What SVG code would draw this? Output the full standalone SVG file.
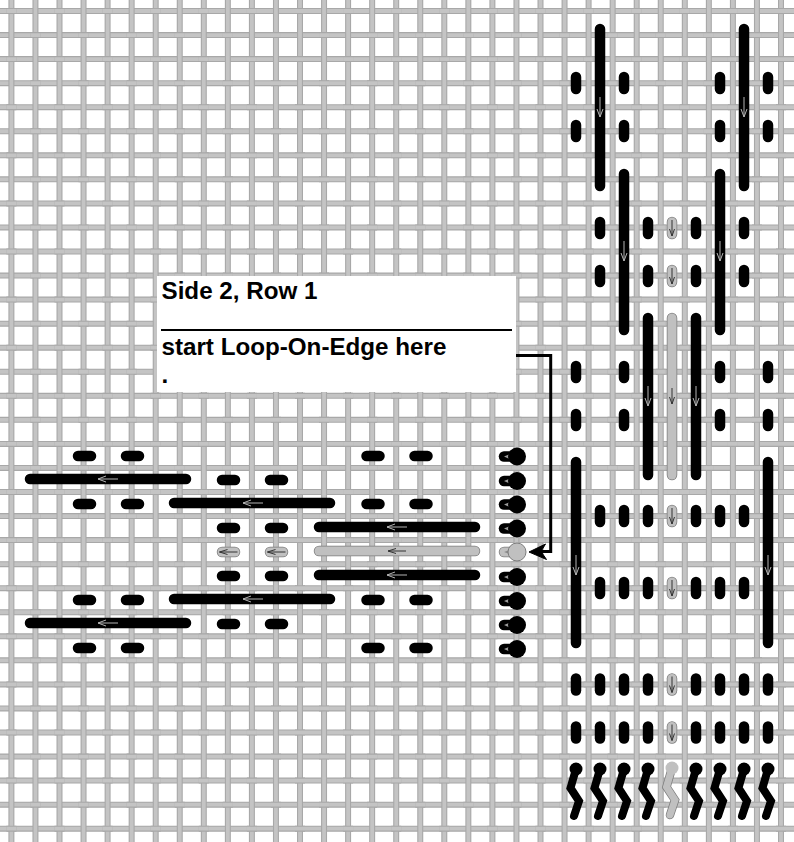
<svg xmlns="http://www.w3.org/2000/svg" width="794" height="842" viewBox="0 0 794 842">
<style>
.k{stroke:#000;stroke-width:10.500;stroke-linecap:round;fill:none}
.go{stroke:#7d7d7d;stroke-width:10.500;stroke-linecap:round;fill:none}
.gi{stroke:#c0c0c0;stroke-width:9;stroke-linecap:round;fill:none}
.kd{fill:#000}
.gd{fill:#c0c0c0;stroke:#7d7d7d;stroke-width:1}
.la{stroke:#b4b4b4;stroke-width:1;fill:none}
.da{stroke:#333;stroke-width:1;fill:none}
.zk{stroke:#000;stroke-width:8;stroke-linecap:round;stroke-linejoin:miter;fill:none}
.zo{stroke:#7d7d7d;stroke-width:8.500;stroke-linecap:round;stroke-linejoin:miter;fill:none}
.zi{stroke:#c0c0c0;stroke-width:7;stroke-linecap:round;stroke-linejoin:miter;fill:none}
.t{font-family:"Liberation Sans",Arial,sans-serif;font-weight:700;font-size:24.200px;fill:#000}
.ho{stroke:#a8a8a8;stroke-width:6;fill:none}
.hi{stroke:#c4c4c4;stroke-width:3.800;fill:none}
.pa{stroke-dasharray:10 38.100}
</style>
<defs>
<path id="hr" d="M0 11H794M0 35.050H794M0 59.100H794M0 83.150H794M0 107.200H794M0 131.250H794M0 155.300H794M0 179.350H794M0 203.400H794M0 227.450H794M0 251.500H794M0 275.550H794M0 299.600H794M0 323.650H794M0 347.700H794M0 371.750H794M0 395.800H794M0 419.850H794M0 443.900H794M0 467.950H794M0 492H794M0 516.050H794M0 540.100H794M0 564.150H794M0 588.200H794M0 612.250H794M0 636.300H794M0 660.350H794M0 684.400H794M0 708.450H794M0 732.500H794M0 756.550H794M0 780.600H794M0 804.650H794M0 828.700H794"/>
<path id="vr" d="M11.400 0V842M35.450 0V842M59.500 0V842M83.550 0V842M107.600 0V842M131.650 0V842M155.700 0V842M179.750 0V842M203.800 0V842M227.850 0V842M251.900 0V842M275.950 0V842M300 0V842M324.050 0V842M348.100 0V842M372.150 0V842M396.200 0V842M420.250 0V842M444.300 0V842M468.350 0V842M492.400 0V842M516.450 0V842M540.500 0V842M564.550 0V842M588.600 0V842M612.650 0V842M636.700 0V842M660.750 0V842M684.800 0V842M708.850 0V842M732.900 0V842M756.950 0V842M781 0V842"/>
<path id="pt" d="M6.400 11H794M30.450 35.050H794M6.400 59.100H794M30.450 83.150H794M6.400 107.200H794M30.450 131.250H794M6.400 155.300H794M30.450 179.350H794M6.400 203.400H794M30.450 227.450H794M6.400 251.500H794M30.450 275.550H794M6.400 299.600H794M30.450 323.650H794M6.400 347.700H794M30.450 371.750H794M6.400 395.800H794M30.450 419.850H794M6.400 443.900H794M30.450 467.950H794M6.400 492H794M30.450 516.050H794M6.400 540.100H794M30.450 564.150H794M6.400 588.200H794M30.450 612.250H794M6.400 636.300H794M30.450 660.350H794M6.400 684.400H794M30.450 708.450H794M6.400 732.500H794M30.450 756.550H794M6.400 780.600H794M30.450 804.650H794M6.400 828.700H794"/>
<path id="ad" class="la" d="M-3 2 L0 10 L3 2 M0 -10 V10"/>
<path id="al" class="la" d="M-2 -3 L-10 0 L-2 3 M10 0 H-10"/>
<path id="add" class="da" d="M-2.500 1 L0 8 L2.500 1 M0 -8 V8"/>
<path id="ald" class="da" d="M-1 -2.500 L-9 0 L-1 2.500 M9 0 H-9"/>
<g id="sv"><line class="k" x1="0" y1="-6" x2="0" y2="6"/></g>
<g id="sh"><line class="k" x1="-6.500" y1="0" x2="6.500" y2="0"/></g>
<g id="gv"><line class="go" x1="0" y1="-6" x2="0" y2="6"/><line class="gi" x1="0" y1="-6" x2="0" y2="6"/><use href="#add"/></g>
<g id="gh"><line class="go" x1="-6.500" y1="0" x2="6.500" y2="0"/><line class="gi" x1="-6.500" y1="0" x2="6.500" y2="0"/><use href="#ald"/></g>
<g id="knot"><line class="k" x1="5" y1="0" x2="14" y2="0"/><path fill="#9a9a9a" d="M13 -3.500 L5 0 L13 3.500 Z"/><circle class="kd" cx="18" cy="0" r="9"/></g>
<path id="zz" d="M0 0 L-5.500 19 L3 32 L-2 47"/>
<g id="zkb"><use href="#zz" class="zk"/><circle class="kd" r="6.500"/></g>
</defs>

<rect id="canvas" width="794" height="842" fill="#fff"/>
<g id="grid">
<use href="#hr" class="ho"/><use href="#hr" class="hi"/>
<use href="#vr" class="ho"/><use href="#vr" class="hi"/>
<use href="#pt" class="ho pa"/><use href="#pt" class="hi pa"/>
</g>

<g id="note">
<rect x="157" y="276" width="359" height="116" fill="#fff"/>
<text class="t" x="161.500" y="298.500">Side 2, Row 1</text>
<line x1="161" y1="330" x2="512" y2="330" stroke="#000" stroke-width="2"/>
<text class="t" x="161.500" y="355">start Loop-On-Edge here</text>
<text class="t" x="161.500" y="383">.</text>
</g>

<g id="connectors">
<path d="M516 355.500H550.700V551.500H533" fill="none" stroke="#000" stroke-width="3"/>
<path d="M529 552 L545.500 544 L541 551.500 L546.500 559.500 Z" fill="#000" stroke="#000" stroke-width="1"/>
</g>

<g id="left-bars">
<line class="k" x1="30" y1="479" x2="186" y2="479"/><use href="#al" x="108" y="479"/>
<line class="k" x1="174" y1="503" x2="330" y2="503"/><use href="#al" x="253" y="503"/>
<line class="k" x1="319" y1="527" x2="475" y2="527"/><use href="#al" x="397" y="527"/>
<line class="go" x1="319" y1="551" x2="475" y2="551"/><line class="gi" x1="319" y1="551" x2="475" y2="551"/><use href="#ald" x="397" y="551"/>
<line class="k" x1="319" y1="575" x2="475" y2="575"/><use href="#al" x="397" y="575"/>
<line class="k" x1="174" y1="599" x2="330" y2="599"/><use href="#al" x="253" y="599"/>
<line class="k" x1="30" y1="623" x2="186" y2="623"/><use href="#al" x="108" y="623"/>
</g>
<g id="left-short">
<use href="#sh" x="84.500" y="456"/><use href="#sh" x="132.500" y="456"/>
<use href="#sh" x="84.500" y="504"/><use href="#sh" x="132.500" y="504"/>
<use href="#sh" x="84.500" y="600"/><use href="#sh" x="132.500" y="600"/>
<use href="#sh" x="84.500" y="648"/><use href="#sh" x="132.500" y="648"/>
<use href="#sh" x="228.500" y="480"/><use href="#sh" x="276.500" y="480"/>
<use href="#sh" x="228.500" y="528"/><use href="#sh" x="276.500" y="528"/>
<use href="#gh" x="228.500" y="552"/><use href="#gh" x="276.500" y="552"/>
<use href="#sh" x="228.500" y="576"/><use href="#sh" x="276.500" y="576"/>
<use href="#sh" x="228.500" y="624"/><use href="#sh" x="276.500" y="624"/>
<use href="#sh" x="373" y="456"/><use href="#sh" x="421" y="456"/>
<use href="#sh" x="373" y="504"/><use href="#sh" x="421" y="504"/>
<use href="#sh" x="373" y="600"/><use href="#sh" x="421" y="600"/>
<use href="#sh" x="373" y="648"/><use href="#sh" x="421" y="648"/>
</g>
<g id="edge-knots">
<use href="#knot" x="499" y="456.500"/><use href="#knot" x="499" y="481"/><use href="#knot" x="499" y="504.500"/><use href="#knot" x="499" y="528.500"/>
<g id="start-knot"><line class="go" x1="504" y1="552" x2="513" y2="552"/><line class="gi" x1="504" y1="552" x2="513" y2="552"/><path fill="#8a8a8a" d="M512 549 L504 552 L512 555 Z"/><circle class="gd" cx="517" cy="552" r="9"/></g>
<use href="#knot" x="499" y="577"/><use href="#knot" x="499" y="601"/><use href="#knot" x="499" y="625"/><use href="#knot" x="499" y="649"/>
</g>

<g id="right-bars">
<line class="k" x1="600" y1="29" x2="600" y2="186"/><use href="#ad" x="600" y="107"/>
<line class="k" x1="744" y1="29" x2="744" y2="186"/><use href="#ad" x="744" y="107"/>
<line class="k" x1="624" y1="174" x2="624" y2="330"/><use href="#ad" x="624" y="251"/>
<line class="k" x1="720" y1="174" x2="720" y2="330"/><use href="#ad" x="720" y="251"/>
<line class="k" x1="648" y1="318" x2="648" y2="475"/><use href="#ad" x="648" y="396"/>
<line class="go" x1="672" y1="318" x2="672" y2="475"/><line class="gi" x1="672" y1="318" x2="672" y2="475"/><use href="#add" x="672" y="396"/>
<line class="k" x1="696" y1="318" x2="696" y2="475"/><use href="#ad" x="696" y="396"/>
<line class="k" x1="576" y1="462" x2="576" y2="643"/><use href="#ad" x="576" y="565"/>
<line class="k" x1="768" y1="462" x2="768" y2="643"/><use href="#ad" x="768" y="565"/>
</g>
<g id="right-short">
<use href="#sv" x="576" y="83"/><use href="#sv" x="624" y="83"/><use href="#sv" x="720" y="83"/><use href="#sv" x="768" y="83"/>
<use href="#sv" x="576" y="131"/><use href="#sv" x="624" y="131"/><use href="#sv" x="720" y="131"/><use href="#sv" x="768" y="131"/>
<use href="#sv" x="600" y="228"/><use href="#sv" x="648" y="228"/><use href="#gv" x="672" y="228"/><use href="#sv" x="696" y="228"/><use href="#sv" x="744" y="228"/>
<use href="#sv" x="600" y="276"/><use href="#sv" x="648" y="276"/><use href="#gv" x="672" y="276"/><use href="#sv" x="696" y="276"/><use href="#sv" x="744" y="276"/>
<use href="#sv" x="576" y="372"/><use href="#sv" x="624" y="372"/><use href="#sv" x="720" y="372"/><use href="#sv" x="768" y="372"/>
<use href="#sv" x="576" y="420"/><use href="#sv" x="624" y="420"/><use href="#sv" x="720" y="420"/><use href="#sv" x="768" y="420"/>
<use href="#sv" x="600" y="516"/><use href="#sv" x="624" y="516"/><use href="#sv" x="648" y="516"/><use href="#gv" x="672" y="516"/><use href="#sv" x="696" y="516"/><use href="#sv" x="720" y="516"/><use href="#sv" x="744" y="516"/>
<use href="#sv" x="600" y="588"/><use href="#sv" x="624" y="588"/><use href="#sv" x="648" y="588"/><use href="#gv" x="672" y="588"/><use href="#sv" x="696" y="588"/><use href="#sv" x="720" y="588"/><use href="#sv" x="744" y="588"/>
<use href="#sv" x="576" y="684.500"/><use href="#sv" x="600" y="684.500"/><use href="#sv" x="624" y="684.500"/><use href="#sv" x="648" y="684.500"/><use href="#gv" x="672" y="684.500"/><use href="#sv" x="696" y="684.500"/><use href="#sv" x="720" y="684.500"/><use href="#sv" x="744" y="684.500"/><use href="#sv" x="768" y="684.500"/>
<use href="#sv" x="576" y="732.500"/><use href="#sv" x="600" y="732.500"/><use href="#sv" x="624" y="732.500"/><use href="#sv" x="648" y="732.500"/><use href="#gv" x="672" y="732.500"/><use href="#sv" x="696" y="732.500"/><use href="#sv" x="720" y="732.500"/><use href="#sv" x="744" y="732.500"/><use href="#sv" x="768" y="732.500"/>
</g>
<g id="bottom-zigzags">
<use href="#zkb" x="576" y="769"/><use href="#zkb" x="600" y="769"/><use href="#zkb" x="624" y="769"/><use href="#zkb" x="648" y="769"/>
<g id="gray-zigzag" transform="translate(672 768)"><use href="#zz" class="zo"/><use href="#zz" class="zi"/><circle r="6.500" fill="#c0c0c0"/></g>
<use href="#zkb" x="696" y="769"/><use href="#zkb" x="720" y="769"/><use href="#zkb" x="744" y="769"/><use href="#zkb" x="768" y="769"/>
</g>
</svg>
